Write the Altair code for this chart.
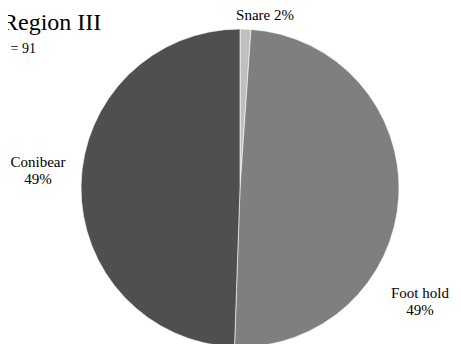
import altair as alt
import pandas as pd

categories = ["Snare", "Foot hold", "Conibear"]
counts = [1, 45, 45]
pct_labels = ["2%", "49%", "49%"]
colors = ["#bfbfbf", "#7f7f7f", "#4f4f4f"]
title_text = "Region III"
subtitle_text = "n = 91"

df = pd.DataFrame({
    "category": categories,
    "count": counts,
    "order": list(range(len(categories))),
})

FONT = "Liberation Serif"
CX, CY, R = 232, 180, 159

pie = alt.Chart(df).mark_arc(radius=R, stroke="white", strokeWidth=0.6).encode(
    theta=alt.Theta("count:Q", stack=True),
    order=alt.Order("order:Q"),
    color=alt.Color("category:N", scale=alt.Scale(domain=categories, range=colors), legend=None),
    x=alt.value(CX),
    y=alt.value(CY),
)

def label(text, x, y, size=15, align="center"):
    return alt.Chart(pd.DataFrame({"t": [text]})).mark_text(
        font=FONT, fontSize=size, align=align, baseline="middle", lineBreak="\n", color="black"
    ).encode(text="t:N", x=alt.value(x), y=alt.value(y))

layers = [
    pie,
    label(f"{categories[0]} {pct_labels[0]}", 257, 7),
    label(f"{categories[1]}\n{pct_labels[1]}", 412, 285),
    label(f"{categories[2]}\n{pct_labels[2]}", 30, 154),
    label(title_text, -6, 15, size=24, align="left"),
    label(subtitle_text, -8, 41, size=14, align="left"),
]

chart = alt.layer(*layers).properties(
    width=445, height=336, autosize=alt.AutoSizeParams(type="none"), padding=0
).configure_view(stroke=None)

chart.save("out.html", embed_options={"renderer": "svg", "actions": False})
